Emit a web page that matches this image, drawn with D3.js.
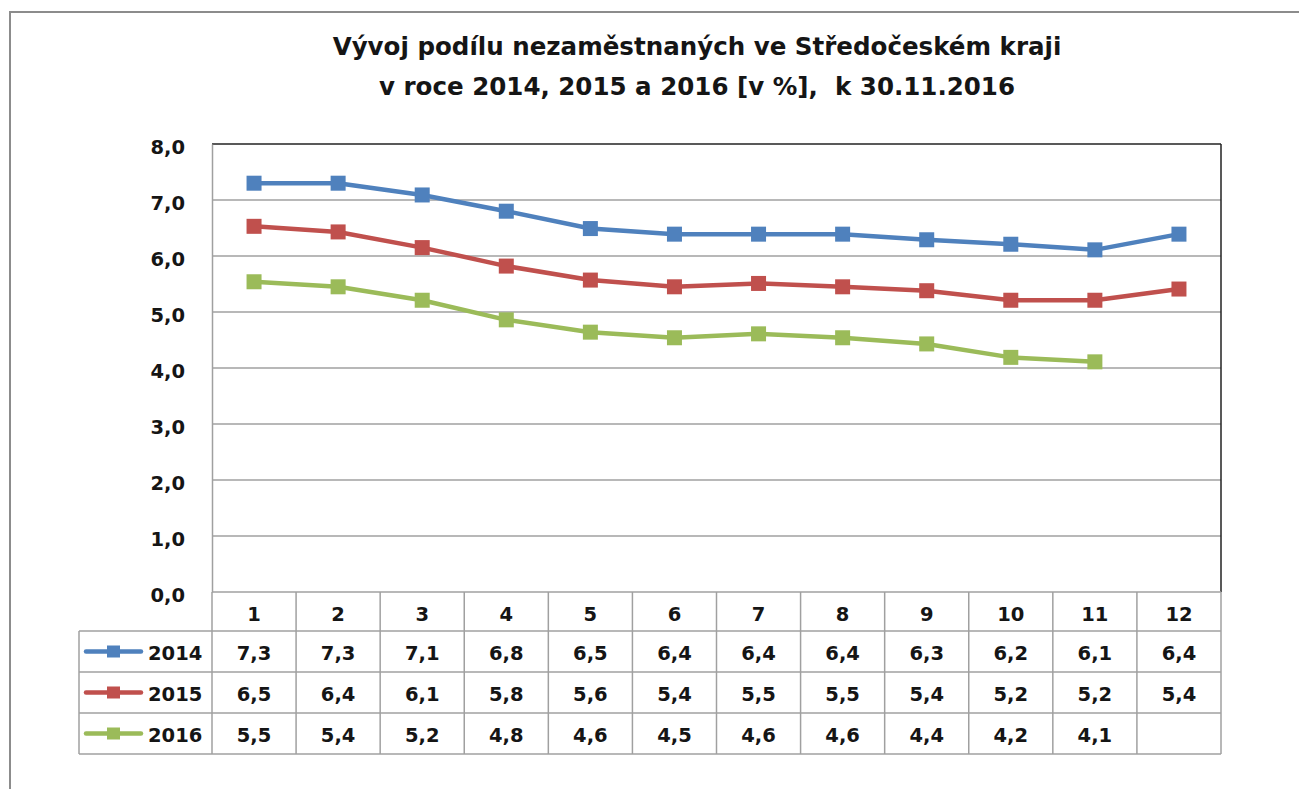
<!DOCTYPE html>
<html>
<head>
<meta charset="utf-8">
<script src="https://cdn.jsdelivr.net/npm/d3@7"></script>
<style>
  html, body { margin: 0; padding: 0; background: #fff; }
  svg { display: block; }
  text { font-family: "DejaVu Sans", sans-serif; font-weight: bold; fill: #151515; white-space: pre; }
</style>
</head>
<body>
<svg id="chart" width="1299" height="789"></svg>
<script>
// ---- data ----
const months = ["1","2","3","4","5","6","7","8","9","10","11","12"];
const seriesNames = ["2014","2015","2016"];
const colors = ["#4F81BD","#C0504D","#9BBB59"];
const values2014 = [7.30,7.30,7.09,6.80,6.49,6.39,6.39,6.39,6.29,6.21,6.11,6.39];
const values2015 = [6.53,6.43,6.15,5.82,5.57,5.45,5.51,5.45,5.38,5.21,5.21,5.41];
const values2016 = [5.54,5.45,5.21,4.86,4.64,4.54,4.61,4.54,4.43,4.19,4.11,null];
const table2014 = ["7,3","7,3","7,1","6,8","6,5","6,4","6,4","6,4","6,3","6,2","6,1","6,4"];
const table2015 = ["6,5","6,4","6,1","5,8","5,6","5,4","5,5","5,5","5,4","5,2","5,2","5,4"];
const table2016 = ["5,5","5,4","5,2","4,8","4,6","4,5","4,6","4,6","4,4","4,2","4,1",""];
const yTicks = [0,1,2,3,4,5,6,7,8];
const titleLines = ["Vývoj podílu nezaměstnaných ve Středočeském kraji",
                    "v roce 2014, 2015 a 2016 [v %],  k 30.11.2016"];

const seriesValues = [values2014, values2015, values2016];
const tableTexts = [table2014, table2015, table2016];

// ---- layout ----
const svg = d3.select("#chart");
const plotL = 212, plotR = 1221, plotT = 144, plotB = 592;
const headerH = 39, rowH = 41, legendL = 79;
const numSize = "19.5px";

const x = d3.scaleBand().domain(months).range([plotL, plotR]);
const y = d3.scaleLinear().domain([0, 8]).range([plotB, plotT]);

// outer frame
svg.append("rect").attr("x", 10).attr("y", 12).attr("width", 1400).attr("height", 900)
  .attr("fill", "#fff").attr("stroke", "#8c8c8c").attr("stroke-width", 2);

// title (fit first line to the reference width)
const titles = svg.append("g").selectAll("text").data(titleLines).join("text")
  .attr("x", 697).attr("y", (d, i) => 55 + i * 40)
  .attr("text-anchor", "middle").style("font-size", "22px")
  .text(d => d);
const w0 = titles.nodes()[0].getComputedTextLength();
titles.style("font-size", (22 * 729 / w0) + "px");

// gridlines
svg.append("g").selectAll("line").data(yTicks.filter(t => t > 0 && t < 8)).join("line")
  .attr("x1", plotL).attr("x2", plotR)
  .attr("y1", d => y(d)).attr("y2", d => y(d))
  .attr("stroke", "#a0a0a0").attr("stroke-width", 1.5);

// plot border: top & right dark
svg.append("line").attr("x1", plotL).attr("x2", plotR).attr("y1", plotT).attr("y2", plotT)
  .attr("stroke", "#222").attr("stroke-width", 1.5);
svg.append("line").attr("x1", plotR).attr("x2", plotR).attr("y1", plotT).attr("y2", plotB)
  .attr("stroke", "#222").attr("stroke-width", 1.5);

// y axis
const yAxis = d3.axisLeft(y).tickValues(yTicks).tickSize(0).tickPadding(27)
  .tickFormat(d => d3.format(".1f")(d).replace(".", ","));
const ya = svg.append("g").attr("transform", `translate(${plotL},0)`).call(yAxis);
ya.select(".domain").attr("stroke", "#a0a0a0").attr("stroke-width", 1.5);
ya.selectAll("text").attr("dy", null).attr("y", 9)
  .style("font-size", numSize).style("font-family", "'DejaVu Sans', sans-serif")
  .style("font-weight", "bold").attr("fill", "#151515");

// lines and markers
const line = d3.line().defined(d => d != null)
  .x((d, i) => x(months[i]) + x.bandwidth() / 2).y(d => y(d));
seriesValues.forEach((vals, s) => {
  svg.append("path").datum(vals).attr("d", line)
    .attr("fill", "none").attr("stroke", colors[s]).attr("stroke-width", 4.5)
    .attr("stroke-linejoin", "round");
  svg.append("g").selectAll("rect").data(vals.map((v, i) => ({v, i})).filter(d => d.v != null)).join("rect")
    .attr("x", d => x(months[d.i]) + x.bandwidth() / 2 - 7.5)
    .attr("y", d => y(d.v) - 7.5)
    .attr("width", 15).attr("height", 15).attr("fill", colors[s]);
});

// ---- data table ----
const tbl = svg.append("g");
const gridCol = "#a0a0a0";
const tableTop = plotB, rowsTop = plotB + headerH, tableBottom = rowsTop + rowH * 3;
tbl.append("line").attr("x1", plotL).attr("x2", plotR).attr("y1", tableTop).attr("y2", tableTop)
  .attr("stroke", gridCol).attr("stroke-width", 1.5);
[0, 1, 2, 3].forEach(r => {
  tbl.append("line").attr("x1", legendL).attr("x2", plotR)
    .attr("y1", rowsTop + r * rowH).attr("y2", rowsTop + r * rowH)
    .attr("stroke", gridCol).attr("stroke-width", 1.5);
});
months.forEach(m => {
  tbl.append("line").attr("x1", x(m)).attr("x2", x(m)).attr("y1", tableTop).attr("y2", tableBottom)
    .attr("stroke", gridCol).attr("stroke-width", 1.5);
});
tbl.append("line").attr("x1", plotR).attr("x2", plotR).attr("y1", tableTop).attr("y2", tableBottom)
  .attr("stroke", gridCol).attr("stroke-width", 1.5);
tbl.append("line").attr("x1", legendL).attr("x2", legendL).attr("y1", rowsTop).attr("y2", tableBottom)
  .attr("stroke", gridCol).attr("stroke-width", 1.5);

// header
tbl.append("g").selectAll("text").data(months).join("text")
  .attr("x", d => x(d) + x.bandwidth() / 2).attr("y", tableTop + headerH / 2 + 9)
  .attr("text-anchor", "middle").style("font-size", numSize).text(d => d);

// rows
tableTexts.forEach((row, r) => {
  const cy = rowsTop + r * rowH + rowH / 2;
  tbl.append("g").selectAll("text").data(row).join("text")
    .attr("x", (d, i) => x(months[i]) + x.bandwidth() / 2).attr("y", cy + 8.5)
    .attr("text-anchor", "middle").style("font-size", numSize).text(d => d);
  tbl.append("line").attr("x1", 86).attr("x2", 141).attr("y1", cy).attr("y2", cy)
    .attr("stroke", colors[r]).attr("stroke-width", 4.5).attr("stroke-linecap", "round");
  tbl.append("rect").attr("x", 107).attr("y", cy - 6).attr("width", 13).attr("height", 12)
    .attr("fill", colors[r]);
  tbl.append("text").attr("x", 148).attr("y", cy + 8.5).style("font-size", numSize).text(seriesNames[r]);
});
</script>
</body>
</html>
